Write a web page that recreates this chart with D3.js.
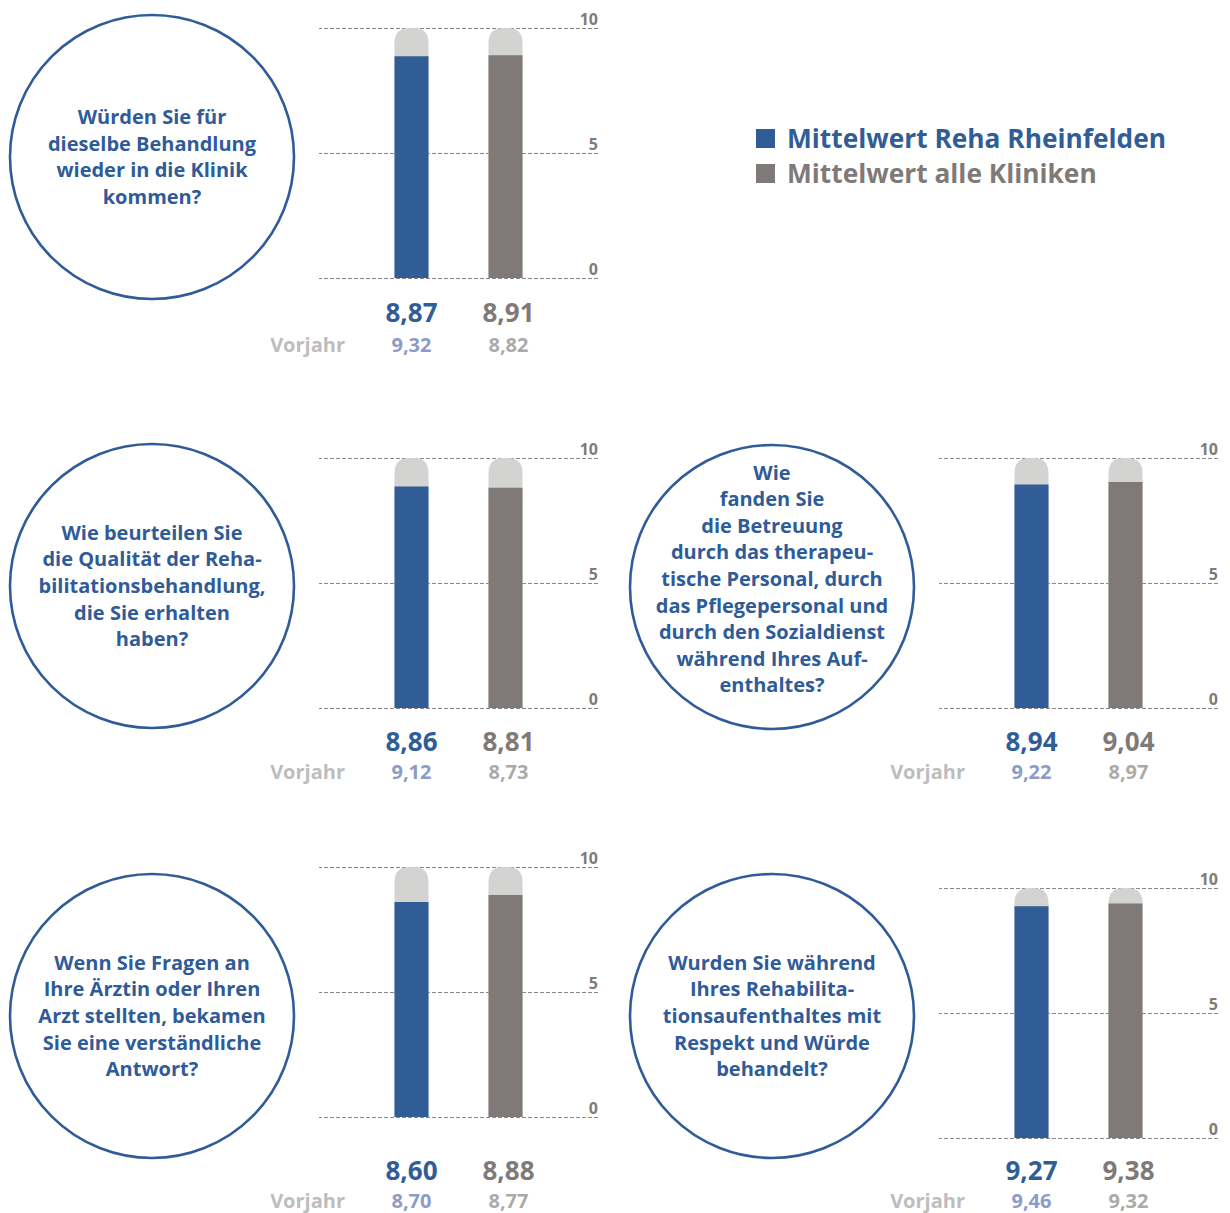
<!DOCTYPE html>
<html>
<head>
<meta charset="utf-8">
<script src="https://cdn.jsdelivr.net/npm/d3@7"></script>
<style>
  html, body { margin: 0; padding: 0; background: #fff; }
  svg { display: block; font-family: "Open Sans", "Noto Sans", sans-serif; }
</style>
</head>
<body>
<svg id="chart" width="1230" height="1213"></svg>
<script>
// ---------- data ----------
const seriesNames = ["Mittelwert Reha Rheinfelden", "Mittelwert alle Kliniken"];
const questions = [
  ["Würden Sie für", "dieselbe Behandlung", "wieder in die Klinik", "kommen?"],
  ["Wie beurteilen Sie", "die Qualität der Reha-", "bilitationsbehandlung,", "die Sie erhalten", "haben?"],
  ["Wie", "fanden Sie", "die Betreuung", "durch das therapeu-", "tische Personal, durch", "das Pflegepersonal und", "durch den Sozialdienst", "während Ihres Auf-", "enthaltes?"],
  ["Wenn Sie Fragen an", "Ihre Ärztin oder Ihren", "Arzt stellten, bekamen", "Sie eine verständliche", "Antwort?"],
  ["Wurden Sie während", "Ihres Rehabilita-", "tionsaufenthaltes mit", "Respekt und Würde", "behandelt?"]
];
const rehaValues = [8.87, 8.86, 8.94, 8.60, 9.27];
const alleValues = [8.91, 8.81, 9.04, 8.88, 9.38];
const rehaPrev   = [9.32, 9.12, 9.22, 8.70, 9.46];
const allePrev   = [8.82, 8.73, 8.97, 8.77, 9.32];
const tickValues = [0, 5, 10];
const prevLabel = "Vorjahr";

// ---------- layout ----------
const layout = [
  { cx: 152, cy: 157,  x0: 319, top: 28,  valY: 322,  prevY: 352,  textDy: 0 },
  { cx: 152, cy: 586,  x0: 319, top: 458, valY: 751,  prevY: 779,  textDy: 0 },
  { cx: 772, cy: 587,  x0: 939, top: 458, valY: 751,  prevY: 779,  textDy: -8 },
  { cx: 152, cy: 1016, x0: 319, top: 867, valY: 1180, prevY: 1208, textDy: 0 },
  { cx: 772, cy: 1016, x0: 939, top: 888, valY: 1180, prevY: 1208, textDy: 0 }
];
const chartW = 279, chartH = 250, radius = 142;
const colors = { reha: "#315d97", alle: "#7f7a77", cap: "#d3d3d2", grid: "#888888",
                 tick: "#7f7b78", prevReha: "#8c9bc9", prevAlle: "#abaaa9", prevLabel: "#bdbdbd" };

const locale = d3.formatLocale({ decimal: ",", thousands: ".", grouping: [3], currency: ["", ""] });
const fmt = locale.format(".2f");

const svg = d3.select("#chart");
svg.append("rect").attr("width", 1230).attr("height", 1213).attr("fill", "#fff");

const keys = ["reha", "alle"];
const labelShift = { reha: 0, alle: 3 };

layout.forEach((L, i) => {
  const g = svg.append("g");
  // circle with question
  g.append("circle").attr("cx", L.cx).attr("cy", L.cy).attr("r", radius)
    .attr("fill", "none").attr("stroke", "#2f5b98").attr("stroke-width", 2.6);
  const lines = questions[i];
  const lh = 26.6;
  g.append("g").selectAll("text").data(lines).join("text")
    .attr("x", L.cx)
    .attr("y", (d, k) => L.cy + L.textDy + (k - (lines.length - 1) / 2) * lh + 7)
    .attr("text-anchor", "middle")
    .attr("font-size", 20).attr("font-weight", 700)
    .attr("fill", "#2f5b98")
    .text(d => d);

  // scales
  const y = d3.scaleLinear().domain([0, 10]).range([L.top + chartH, L.top]);
  const x = d3.scaleBand().domain(keys).range([L.x0, L.x0 + chartW])
    .paddingInner(0.638).paddingOuter(0.803);

  // grid axis
  const axis = d3.axisRight(y).tickValues(tickValues).tickSize(-chartW).tickPadding(0);
  const ax = g.append("g").attr("transform", `translate(${L.x0 + chartW},0)`).call(axis);
  ax.select(".domain").remove();
  ax.selectAll(".tick line").attr("stroke", colors.grid).attr("stroke-dasharray", "4,2").attr("stroke-width", 1);
  ax.selectAll(".tick text").attr("x", 0).attr("dy", "-0.25em")
    .attr("text-anchor", "end").attr("font-size", 16).attr("font-weight", 700)
    .attr("font-family", "'Open Sans', sans-serif")
    .attr("fill", colors.tick);

  const vals = { reha: rehaValues[i], alle: alleValues[i] };
  const prevs = { reha: rehaPrev[i], alle: allePrev[i] };
  const bw = x.bandwidth();
  const r = 15;

  // background capsule (0..10) with rounded top
  g.append("g").selectAll("path").data(keys).join("path")
    .attr("fill", colors.cap)
    .attr("d", k => {
      const xl = x(k), xr = x(k) + bw, yt = y(10), yb = y(0);
      return `M${xl},${yb} L${xl},${yt + r} Q${xl},${yt} ${xl + r},${yt} L${xr - r},${yt} Q${xr},${yt} ${xr},${yt + r} L${xr},${yb} Z`;
    });

  // value bars
  g.append("g").selectAll("rect").data(keys).join("rect")
    .attr("x", k => x(k)).attr("width", bw)
    .attr("y", k => y(vals[k])).attr("height", k => y(0) - y(vals[k]))
    .attr("fill", k => colors[k]);

  // value labels
  g.append("g").selectAll("text").data(keys).join("text")
    .attr("x", k => x(k) + bw / 2 + labelShift[k]).attr("y", L.valY)
    .attr("text-anchor", "middle").attr("font-size", 26).attr("font-weight", 700)
    .attr("fill", k => colors[k])
    .text(k => fmt(vals[k]));

  // previous year
  g.append("text").attr("x", L.x0 + 26).attr("y", L.prevY)
    .attr("text-anchor", "end").attr("font-size", 20).attr("font-weight", 700)
    .attr("fill", colors.prevLabel).text(prevLabel);
  g.append("g").selectAll("text").data(keys).join("text")
    .attr("x", k => x(k) + bw / 2 + labelShift[k]).attr("y", L.prevY)
    .attr("text-anchor", "middle").attr("font-size", 20).attr("font-weight", 700)
    .attr("fill", k => k === "reha" ? colors.prevReha : colors.prevAlle)
    .text(k => fmt(prevs[k]));
});

// legend
const legend = svg.append("g").attr("transform", "translate(756,129)");
const li = legend.selectAll("g").data(seriesNames).join("g")
  .attr("transform", (d, k) => `translate(0,${k * 35})`);
li.append("rect").attr("width", 19).attr("height", 19)
  .attr("fill", (d, k) => colors[keys[k]]);
li.append("text").attr("x", 31).attr("y", 18.5)
  .attr("font-size", 26.3).attr("font-weight", 700)
  .attr("fill", (d, k) => colors[keys[k]])
  .text(d => d);
</script>
</body>
</html>
